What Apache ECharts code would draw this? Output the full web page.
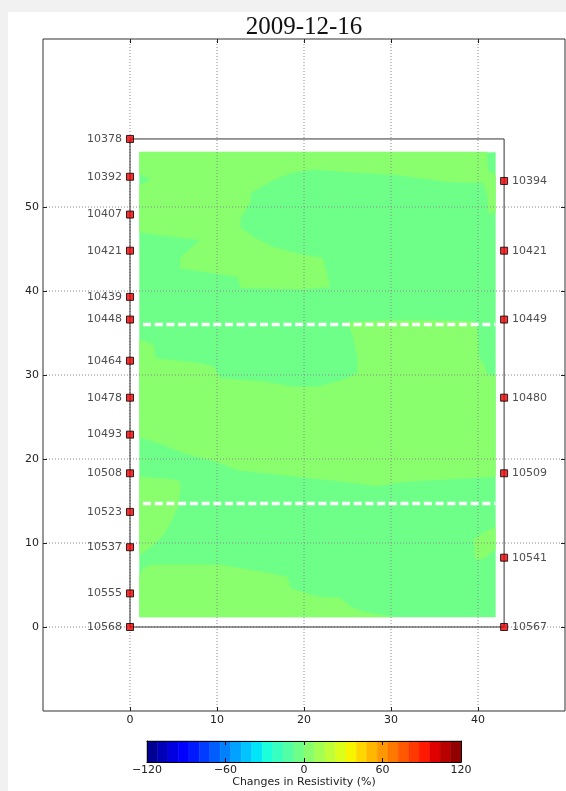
<!DOCTYPE html>
<html>
<head>
<meta charset="utf-8">
<script src="https://cdn.jsdelivr.net/npm/echarts@6/dist/echarts.min.js"></script>
<style>
html,body{margin:0;padding:0;background:#f1f1f1;}
#chart{width:566px;height:791px;}
</style>
</head>
<body>
<div id="chart"></div>
<script>
// ---------------- data ----------------
const titleText = '2009-12-16';
const xLim = [-10, 50];
const yLim = [-10, 70];
const xTicks = [0, 10, 20, 30, 40];
const yTicks = [0, 10, 20, 30, 40, 50];

const leftX = 0;
const leftIds = ['10378','10392','10407','10421','10439','10448','10464','10478','10493','10508','10523','10537','10555','10568'];
const leftY = [58.1, 53.6, 49.1, 44.8, 39.3, 36.6, 31.7, 27.3, 22.9, 18.3, 13.7, 9.5, 4.0, 0];
const rightX = 43;
const rightIds = ['10394','10421','10449','10480','10509','10541','10567'];
const rightY = [53.1, 44.8, 36.6, 27.3, 18.3, 8.25, 0];

const dashY = [36, 14.7];
const dashX = [1.5, 42];

// contour field (filled regions, data coordinates) and their bin values (%)
const fieldBounds = [[1.1,1.2],[42,1.2],[42,56.5],[1.1,56.5]];
const patchTop = [[1.1,56.55],[41.0,56.55],[41.1,54.4],[42.0,53.8],[42.0,49.3],[41.2,49.3],[41.1,51.4],[40.6,52.9],
  [36.5,53.0],[30.75,53.8],[25.0,54.2],[21.1,54.5],[18.45,54.05],[16.5,53.2],[13.85,51.7],[13.85,50.6],[12.7,48.7],
  [12.7,47.6],[14.2,46.4],[16.5,45.2],[19.9,44.3],[22.2,43.9],[22.5,42.5],[23.0,40.5],[19.6,40.2],[12.7,40.4],
  [12.4,41.7],[5.8,42.7],[5.8,44.0],[8.1,46.1],[4.7,46.5],[1.1,47.0],[1.1,52.6],[2.4,53.3],[1.1,54.0]];
const patchMiddle = [[1.1,34.2],[2.7,33.6],[2.9,32.0],[7.8,31.4],[9.6,31.0],[10.4,29.6],[15.3,29.2],[18.8,28.6],
  [21.55,28.6],[24.5,29.4],[26.15,30.2],[26.15,32.1],[25.6,34.8],[25.0,36.3],[31.1,36.55],[39.5,36.4],[39.9,35.4],
  [40.1,32.0],[40.6,31.4],[41.1,30.0],[42.0,30.0],[42.0,17.9],[38.3,17.7],[31.4,17.3],[28.45,16.8],[23.0,17.5],
  [19.25,17.9],[12.4,18.7],[10.1,19.6],[6.15,20.7],[3.85,21.7],[1.1,22.6]];
const patchLeft = [[1.1,17.9],[5.5,17.5],[5.8,16.9],[5.6,14.8],[5.0,13.1],[3.85,10.95],[2.4,9.5],[1.1,8.6]];
const patchRight = [[42.0,11.9],[40.6,11.2],[39.5,10.4],[39.7,8.1],[40.5,8.1],[42.0,9.2]];
const patchBottom = [[1.1,1.2],[1.1,6.2],[1.55,7.0],[2.4,7.4],[10.1,7.4],[15.3,6.55],[18.1,5.95],[18.45,4.6],
  [21.55,3.6],[24.2,3.45],[25.35,2.4],[26.85,1.8],[30.3,1.2]];
const regionPolys = [fieldBounds, patchTop, patchMiddle, patchLeft, patchRight, patchBottom];
const regionLevels = [-4, 4, 4, 4, 4, 4];

// colorbar
const cbEdges = [-120,-112,-104,-96,-88,-80,-72,-64,-56,-48,-40,-32,-24,-16,-8,0,8,16,24,32,40,48,56,64,72,80,88,96,104,112,120];
const cbTicks = [-120, -60, 0, 60, 120];
const cbLabel = 'Changes in Resistivity (%)';

// ---------------- colour map (matplotlib jet) ----------------
const jetR = [[0,0],[0.35,0],[0.66,1],[0.89,1],[1,0.5]];
const jetG = [[0,0],[0.125,0],[0.375,1],[0.64,1],[0.91,0],[1,0]];
const jetB = [[0,0.5],[0.11,1],[0.34,1],[0.65,0],[1,0]];
function seg(s, t){
  for (let i=0;i<s.length-1;i++){
    if (t <= s[i+1][0]){
      const f = (t - s[i][0])/(s[i+1][0]-s[i][0]);
      return s[i][1] + f*(s[i+1][1]-s[i][1]);
    }
  }
  return s[s.length-1][1];
}
function levelColor(v){
  const lo = cbEdges[0], hi = cbEdges[cbEdges.length-1];
  const t = Math.max(0, Math.min(1, (v-lo)/(hi-lo)));
  const c = x => Math.round(Math.max(0,Math.min(1,x))*255);
  return 'rgb(' + c(seg(jetR,t)) + ',' + c(seg(jetG,t)) + ',' + c(seg(jetB,t)) + ')';
}

// ---------------- chart ----------------
const FONT = 'DejaVu Sans';
const TXT = '#222';
const chart = echarts.init(document.getElementById('chart'), null, {renderer:'canvas'});

const cbSeg = cbEdges.slice(0,-1).map((e,i)=>[e, cbEdges[i+1]]);
const noZero = {show:false, onZero:false};

const option = {
  backgroundColor: '#f1f1f1',
  animation: false,
  graphic: [{
    type:'rect', z:-100, silent:true,
    shape:{x:8, y:12, width:600, height:800},
    style:{fill:'#ffffff'}
  }],
  title: {
    text: titleText, left: 304, top: 15, padding: 0, textAlign: 'center',
    textStyle: {fontFamily:'Liberation Serif', fontSize:25, fontWeight:'normal', color:'#111'}
  },
  grid: [
    {left:43, top:39, width:522, height:672, show:true, borderColor:'#333', borderWidth:1, backgroundColor:'transparent'},
    {left:147, top:741, width:314, height:21, show:false}
  ],
  xAxis: [
    {gridIndex:0, type:'value', min:xLim[0], max:xLim[1], interval:10, position:'bottom', z:10,
     axisLine:noZero, splitLine:{show:false},
     axisTick:{inside:true, length:4, customValues:xTicks, lineStyle:{color:'#222'}},
     axisLabel:{customValues:xTicks, margin:4, fontFamily:FONT, fontSize:11, color:TXT}},
    {gridIndex:0, type:'value', min:xLim[0], max:xLim[1], interval:10, position:'top', z:10,
     axisLine:noZero, splitLine:{show:false}, axisLabel:{show:false},
     axisTick:{inside:true, length:4, customValues:xTicks, lineStyle:{color:'#222'}}},
    {gridIndex:1, type:'value', min:cbEdges[0], max:cbEdges[cbEdges.length-1], interval:60, position:'bottom', z:10,
     axisLine:{show:true, onZero:false, lineStyle:{color:'#000', width:1}}, splitLine:{show:false},
     axisTick:{inside:true, length:4, customValues:cbTicks, lineStyle:{color:'#000'}},
     axisLabel:{customValues:cbTicks, margin:3, fontFamily:FONT, fontSize:11, color:TXT,
       formatter: v => String(v).replace('-', '\u2212')},
     name: cbLabel, nameLocation:'middle', nameGap:15,
     nameTextStyle:{fontFamily:FONT, fontSize:11, color:TXT}},
    {gridIndex:1, type:'value', min:cbEdges[0], max:cbEdges[cbEdges.length-1], interval:60, position:'top', z:10,
     axisLine:{show:true, onZero:false, lineStyle:{color:'#000', width:1}}, splitLine:{show:false}, axisLabel:{show:false},
     axisTick:{inside:true, length:4, customValues:cbTicks, lineStyle:{color:'#000'}}}
  ],
  yAxis: [
    {gridIndex:0, type:'value', min:yLim[0], max:yLim[1], interval:10, position:'left', z:10,
     axisLine:noZero, splitLine:{show:false},
     axisTick:{inside:true, length:4, customValues:yTicks, lineStyle:{color:'#222'}},
     axisLabel:{customValues:yTicks, margin:4, fontFamily:FONT, fontSize:11, color:TXT}},
    {gridIndex:0, type:'value', min:yLim[0], max:yLim[1], interval:10, position:'right', z:10,
     axisLine:noZero, splitLine:{show:false}, axisLabel:{show:false},
     axisTick:{inside:true, length:4, customValues:yTicks, lineStyle:{color:'#222'}}},
    {gridIndex:1, type:'value', min:0, max:1, position:'left', z:10,
     axisLine:{show:true, onZero:false, lineStyle:{color:'#000', width:1}}, axisTick:{show:false}, axisLabel:{show:false}, splitLine:{show:false}},
    {gridIndex:1, type:'value', min:0, max:1, position:'right', z:10,
     axisLine:{show:true, onZero:false, lineStyle:{color:'#000', width:1}}, axisTick:{show:false}, axisLabel:{show:false}, splitLine:{show:false}}
  ],
  series: [
    // filled contours
    {type:'custom', xAxisIndex:0, yAxisIndex:0, z:1, silent:true,
     data: regionPolys.map(p => p[0]),
     renderItem: (params, api) => {
       const poly = regionPolys[params.dataIndex];
       const col = levelColor(regionLevels[params.dataIndex]);
       return {type:'polygon', shape:{points: poly.map(p => api.coord(p))},
               style:{fill:col, stroke:col, lineWidth:0.5}};
     }},
    // dotted grid lines
    {type:'custom', xAxisIndex:0, yAxisIndex:0, z:3, silent:true,
     data: xTicks.map(v => [v, 0, 0]).concat(yTicks.map(v => [0, v, 1])),
     renderItem: (params, api) => {
       const horiz = api.value(2) === 1;
       let p1, p2;
       if (horiz) { p1 = api.coord([xLim[0], api.value(1)]); p2 = api.coord([xLim[1], api.value(1)]); }
       else { p1 = api.coord([api.value(0), yLim[0]]); p2 = api.coord([api.value(0), yLim[1]]); }
       return {type:'line', shape:{x1:p1[0], y1:p1[1], x2:p2[0], y2:p2[1]},
               style:{stroke:'#8a8a8a', lineWidth:1, lineDash:[1,2]}};
     }},
    // white dashed lines
    {type:'custom', xAxisIndex:0, yAxisIndex:0, z:4, silent:true,
     data: dashY.map(y => [dashX[0], y]),
     renderItem: (params, api) => {
       const p1 = api.coord([dashX[0], api.value(1)]);
       const p2 = api.coord([dashX[1], api.value(1)]);
       return {type:'line', shape:{x1:p1[0], y1:p1[1], x2:p2[0], y2:p2[1]},
               style:{stroke:'#ffffff', lineWidth:3.5, lineDash:[8,3.7]}};
     }},
    // electrode outline
    {type:'line', xAxisIndex:0, yAxisIndex:0, z:5, silent:true, symbol:'none',
     lineStyle:{color:'#333', width:1},
     data: [[leftX, leftY[leftY.length-1]], [leftX, leftY[0]], [rightX, leftY[0]], [rightX, rightY[rightY.length-1]], [leftX, leftY[leftY.length-1]]]},
    // left electrodes
    {type:'scatter', xAxisIndex:0, yAxisIndex:0, z:6, silent:true, symbol:'rect', symbolSize:7,
     itemStyle:{color:'#f00000', borderColor:'#000', borderWidth:1},
     label:{show:true, position:'left', distance:4, formatter:'{b}', fontFamily:FONT, fontSize:11, color:TXT},
     data: leftY.map((y,i) => ({name:leftIds[i], value:[leftX, y]}))},
    // right electrodes
    {type:'scatter', xAxisIndex:0, yAxisIndex:0, z:6, silent:true, symbol:'rect', symbolSize:7,
     itemStyle:{color:'#f00000', borderColor:'#000', borderWidth:1},
     label:{show:true, position:'right', distance:4, formatter:'{b}', fontFamily:FONT, fontSize:11, color:TXT},
     data: rightY.map((y,i) => ({name:rightIds[i], value:[rightX, y]}))},
    // colorbar
    {type:'custom', xAxisIndex:2, yAxisIndex:2, z:2, silent:true,
     data: cbSeg,
     renderItem: (params, api) => {
       const lo = api.value(0), hi = api.value(1);
       const a = api.coord([lo, 1]);
       const b = api.coord([hi, 0]);
       const col = levelColor((lo+hi)/2);
       return {type:'rect', shape:{x:a[0], y:a[1], width:b[0]-a[0], height:b[1]-a[1]},
               style:{fill:col, stroke:col, lineWidth:0.5}};
     }}
  ]
};
chart.setOption(option);
</script>
</body>
</html>
